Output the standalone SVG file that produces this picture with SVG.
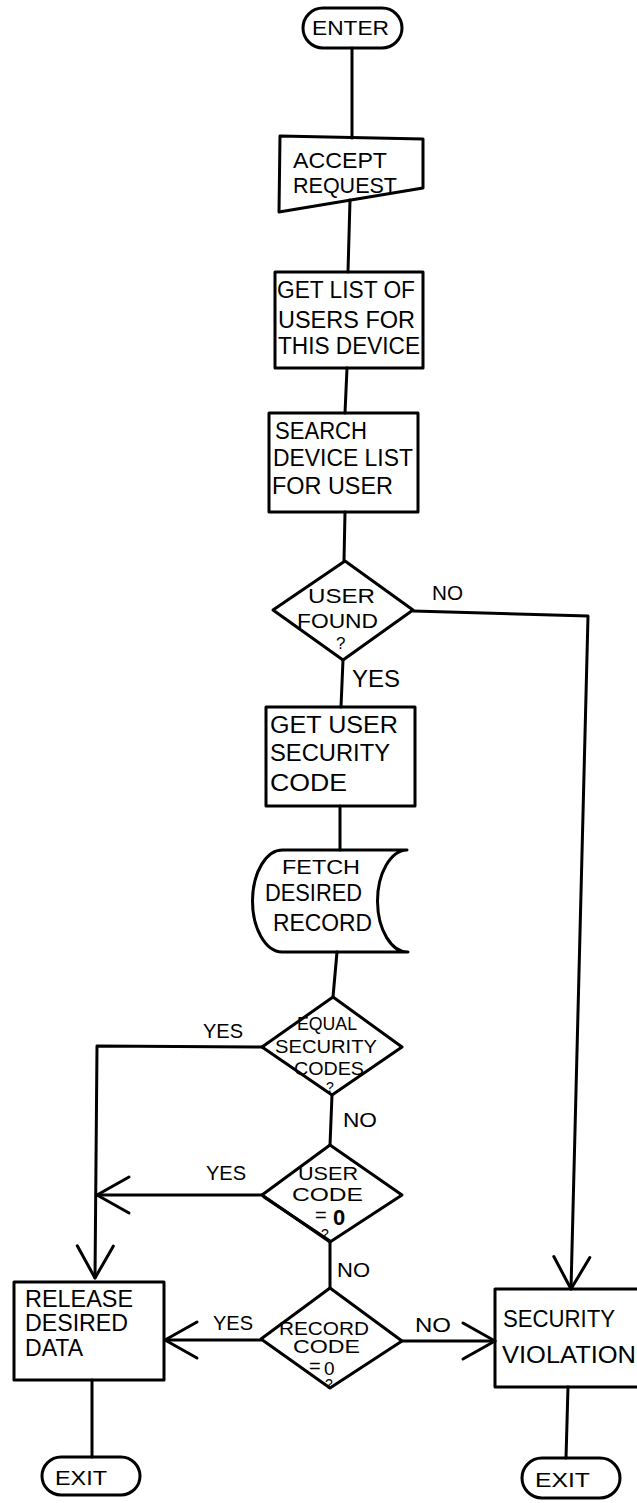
<svg xmlns="http://www.w3.org/2000/svg" width="637" height="1503" viewBox="0 0 637 1503">
  <style>
    .shape { fill: none; stroke: #000; stroke-width: 3; stroke-linejoin: round; }
    .line { fill: none; stroke: #000; stroke-width: 3; stroke-linejoin: round; stroke-linecap: round; }
    .t { font-family: "Liberation Sans", Arial, sans-serif; font-size: 23px; fill: #000; }
    .m { font-size: 22px; }
    .s { font-size: 21px; }
    .d { font-size: 19px; }
    .q { font-size: 17px; }
    .qs { font-size: 14px; }
    .eq { font-size: 20px; }
  </style>
  <defs>
    <marker id="arrow" markerUnits="userSpaceOnUse" viewBox="-40 -25 45 50" refX="0" refY="0" markerWidth="45" markerHeight="50" orient="auto" overflow="visible">
      <path d="M-32,-18 L0,0 L-32,18" fill="none" stroke="#000" stroke-width="3" stroke-linecap="round" stroke-linejoin="round"/>
    </marker>
  </defs>
  <rect width="637" height="1503" fill="#fff"/>

  <!-- connectors and branch labels -->
  <g id="connectors">
    <path class="line" d="M352,48 L352,138"/>
    <path class="line" d="M350,200 L348,272"/>
    <path class="line" d="M347,368 L345,413"/>
    <path class="line" d="M345,512 L344,561"/>
    <path class="line" d="M343,660 L341,707"/>
    <path class="line" d="M340,806 L340,850"/>
    <path class="line" d="M337,952 L333,997"/>
    <path class="line" d="M262,1047 L97,1046 L95,1278" marker-end="url(#arrow)"/>
    <path class="line" d="M332,1095 L330,1145"/>
    <path class="line" d="M262,1195 L97,1195" marker-end="url(#arrow)"/>
    <path class="line" d="M330,1242 L330,1288"/>
    <path class="line" d="M261,1340 L165,1340" marker-end="url(#arrow)"/>
    <path class="line" d="M402,1341 L495,1341" marker-end="url(#arrow)"/>
    <path class="line" d="M413,611 L588,616 L571,1289" marker-end="url(#arrow)"/>
    <path class="line" d="M92,1380 L92,1457"/>
    <path class="line" d="M568,1387 L566,1458"/>
    <text class="t s" x="432" y="600" textLength="31" lengthAdjust="spacingAndGlyphs">NO</text>
    <text class="t" x="352" y="687" textLength="48" lengthAdjust="spacingAndGlyphs">YES</text>
    <text class="t s" x="203" y="1038" textLength="40" lengthAdjust="spacingAndGlyphs">YES</text>
    <text class="t s" x="343" y="1127" textLength="34" lengthAdjust="spacingAndGlyphs">NO</text>
    <text class="t s" x="206" y="1180" textLength="40" lengthAdjust="spacingAndGlyphs">YES</text>
    <text class="t s" x="337" y="1277" textLength="33" lengthAdjust="spacingAndGlyphs">NO</text>
    <text class="t s" x="213" y="1330" textLength="40" lengthAdjust="spacingAndGlyphs">YES</text>
    <text class="t s" x="415" y="1332" textLength="36" lengthAdjust="spacingAndGlyphs">NO</text>
  </g>

  <!-- start terminal -->
  <g id="enter">
    <rect class="shape" x="303" y="8" width="99" height="40" rx="20" ry="20"/>
    <text class="t s" x="312" y="35" textLength="77" lengthAdjust="spacingAndGlyphs">ENTER</text>
  </g>

  <!-- manual input -->
  <g id="accept-request">
    <polygon class="shape" points="280,136 423,139 423,188 279,212"/>
    <text class="t m" x="293" y="168" textLength="94" lengthAdjust="spacingAndGlyphs">ACCEPT</text>
    <text class="t m" x="293" y="193" textLength="104" lengthAdjust="spacingAndGlyphs">REQUEST</text>
  </g>

  <g id="get-list">
    <rect class="shape" x="275" y="272" width="148" height="96"/>
    <text class="t" x="277" y="298" textLength="138" lengthAdjust="spacingAndGlyphs">GET LIST OF</text>
    <text class="t" x="278" y="328" textLength="137" lengthAdjust="spacingAndGlyphs">USERS FOR</text>
    <text class="t" x="278" y="354" textLength="142" lengthAdjust="spacingAndGlyphs">THIS DEVICE</text>
  </g>

  <g id="search-list">
    <rect class="shape" x="269" y="413" width="149" height="99"/>
    <text class="t" x="275" y="439" textLength="92" lengthAdjust="spacingAndGlyphs">SEARCH</text>
    <text class="t" x="273" y="466" textLength="140" lengthAdjust="spacingAndGlyphs">DEVICE LIST</text>
    <text class="t" x="272" y="494" textLength="121" lengthAdjust="spacingAndGlyphs">FOR  USER</text>
  </g>

  <g id="user-found">
    <polygon class="shape" points="345,561 413,610 343,660 273,610"/>
    <text class="t s" x="308" y="603" textLength="67" lengthAdjust="spacingAndGlyphs">USER</text>
    <text class="t s" x="297" y="628" textLength="81" lengthAdjust="spacingAndGlyphs">FOUND</text>
    <text class="t q" x="336" y="649">?</text>
  </g>

  <g id="get-security-code">
    <rect class="shape" x="266" y="707" width="149" height="99"/>
    <text class="t" x="270" y="733" textLength="128" lengthAdjust="spacingAndGlyphs">GET  USER</text>
    <text class="t" x="270" y="761" textLength="120" lengthAdjust="spacingAndGlyphs">SECURITY</text>
    <text class="t" x="270" y="791" textLength="77" lengthAdjust="spacingAndGlyphs">CODE</text>
  </g>

  <!-- stored data -->
  <g id="fetch-record">
    <path class="shape" d="M407,850 L283,850 A30,51 0 0 0 282,952 L408,952 A30,51 0 0 1 407,850 Z"/>
    <text class="t s" x="282" y="874" textLength="78" lengthAdjust="spacingAndGlyphs">FETCH</text>
    <text class="t" x="265" y="901" textLength="97" lengthAdjust="spacingAndGlyphs">DESIRED</text>
    <text class="t" x="273" y="931" textLength="99" lengthAdjust="spacingAndGlyphs">RECORD</text>
  </g>

  <g id="equal-codes">
    <polygon class="shape" points="333,997 402,1047 332,1095 262,1047"/>
    <text class="t d" x="297" y="1030" textLength="60" lengthAdjust="spacingAndGlyphs">EQUAL</text>
    <text class="t d" x="275" y="1053" textLength="102" lengthAdjust="spacingAndGlyphs">SECURITY</text>
    <text class="t d" x="294" y="1075" textLength="70" lengthAdjust="spacingAndGlyphs">CODES</text>
    <text class="t qs" x="326" y="1092">?</text>
  </g>

  <g id="user-code-zero">
    <polygon class="shape" points="330,1145 402,1195 330,1242 262,1195"/>
    <path class="line" d="M264,1197 L330,1241" stroke-width="5"/>
    <text class="t d" x="298" y="1180" textLength="60" lengthAdjust="spacingAndGlyphs">USER</text>
    <text class="t d" x="292" y="1201" textLength="71" lengthAdjust="spacingAndGlyphs">CODE</text>
    <text class="t eq" x="315" y="1222">=</text>
    <text class="t m" x="333" y="1225" font-weight="bold">0</text>
    <text class="t qs" x="321" y="1239">?</text>
  </g>

  <g id="record-code-zero">
    <polygon class="shape" points="330,1288 402,1341 330,1388 261,1339"/>
    <text class="t d" x="279" y="1335" textLength="90" lengthAdjust="spacingAndGlyphs">RECORD</text>
    <text class="t d" x="293" y="1353" textLength="67" lengthAdjust="spacingAndGlyphs">CODE</text>
    <text class="t eq" x="309" y="1373">=</text>
    <text class="t d" x="324" y="1375">0</text>
    <text class="t qs" x="325" y="1389">?</text>
  </g>

  <g id="release-data">
    <rect class="shape" x="14" y="1282" width="150" height="98"/>
    <text class="t" x="25" y="1307" textLength="108" lengthAdjust="spacingAndGlyphs">RELEASE</text>
    <text class="t" x="25" y="1331" textLength="103" lengthAdjust="spacingAndGlyphs">DESIRED</text>
    <text class="t" x="25" y="1356" textLength="58" lengthAdjust="spacingAndGlyphs">DATA</text>
  </g>

  <g id="security-violation">
    <rect class="shape" x="495" y="1289" width="150" height="98"/>
    <text class="t" x="503" y="1327" textLength="112" lengthAdjust="spacingAndGlyphs">SECURITY</text>
    <text class="t" x="502" y="1363" textLength="134" lengthAdjust="spacingAndGlyphs">VIOLATION</text>
  </g>

  <g id="exit-release">
    <rect class="shape" x="42" y="1457" width="98" height="38" rx="19" ry="19"/>
    <text class="t s" x="55" y="1485" textLength="52" lengthAdjust="spacingAndGlyphs">EXIT</text>
  </g>

  <g id="exit-violation">
    <rect class="shape" x="522" y="1458" width="98" height="40" rx="20" ry="20"/>
    <text class="t s" x="535" y="1487" textLength="55" lengthAdjust="spacingAndGlyphs">EXIT</text>
  </g>
</svg>
